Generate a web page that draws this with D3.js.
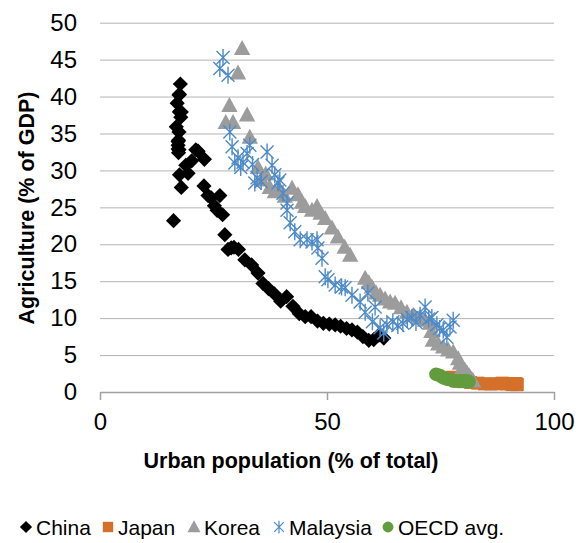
<!DOCTYPE html>
<html>
<head>
<meta charset="utf-8">
<script src="https://cdn.jsdelivr.net/npm/d3@7"></script>
<style>
  body { margin: 0; background: #fff; }
  svg { font-family: "Liberation Sans", Arial, sans-serif; }
</style>
</head>
<body>
<svg id="chart" width="587" height="543"></svg>
<script>
// values: [urban %, agriculture % of GDP]
var china = [[16.2,23.2],[16.8,35.9],[17.0,39.1],[17.4,40.2],[17.6,38.0],[17.9,37.9],[17.8,37.2],[17.5,40.3],[17.7,41.7],[17.5,37.9],
  [17.4,35.2],[17.3,34.1],[17.2,32.9],[17.2,33.4],[17.2,33.9],[17.3,32.4],[17.4,32.8],[17.5,29.4],[17.9,27.7],[18.9,30.7],
  [19.4,29.6],[20.2,31.3],[21.1,32.8],[21.6,32.6],[23.0,31.5],[22.9,27.9],[23.8,26.6],[24.5,26.3],[25.2,25.2],[25.8,24.6],
  [26.4,26.6],[27.0,24.0],[27.5,21.3],[28.2,19.3],[28.9,19.5],[29.5,19.6],[30.5,19.3],[31.9,17.9],[33.4,17.2],[34.8,16.1],
  [35.9,14.7],[37.1,14.0],[38.4,13.3],[39.8,12.3],[41.1,12.9],[42.5,11.6],[43.9,10.6],[45.2,10.2],[46.5,10.2],[47.9,9.6],
  [49.2,9.3],[50.5,9.2],[51.8,9.1],[53.0,8.9],[54.3,8.6],[55.5,8.4],[56.7,8.1],[57.9,7.5],[59.2,7.0],[60.3,7.1],[61.4,7.7],[62.5,7.3]];
var japan = [[77.6,2.0],[77.8,1.9],[78.0,1.8],[78.2,1.7],[78.4,1.6],[78.6,1.5],[80.0,1.4],[81.6,1.3],[83.2,1.2],[84.7,1.1],
  [86.0,1.1],[87.4,1.1],[88.6,1.2],[89.7,1.1],[90.5,1.1],[90.8,1.0],[91.1,1.1],[91.3,1.1],[91.4,1.1],[91.5,1.1],
  [91.6,1.1],[91.7,1.1],[91.8,1.0],[91.9,1.0]];
var korea = [[27.7,36.5],[28.5,38.8],[29.3,36.5],[30.4,43.2],[31.3,46.5],[32.4,37.5],[33.0,34.5],[34.8,30.4],[35.7,28.7],[36.5,29.5],
  [37.4,27.7],[38.5,27.1],[39.5,27.5],[40.7,26.5],[42.3,27.6],[43.6,26.7],[44.5,25.7],[45.2,25.1],[46.7,24.6],[47.8,25.1],
  [48.6,24.2],[49.6,23.5],[51.1,22.2],[52.4,21.0],[53.9,19.6],[55.1,18.5],[58.4,15.4],[59.2,14.8],[59.9,14.2],[60.8,13.4],
  [61.7,13.1],[62.8,12.6],[63.9,12.2],[65.0,12.0],[66.3,11.4],[67.6,10.8],[69.0,10.4],[70.5,10.1],[71.6,9.7],[72.7,9.3],
  [73.0,8.2],[73.3,7.0],[74.5,6.5],[75.6,6.1],[76.7,5.7],[77.8,5.4],[78.9,4.5],[79.3,3.9],[79.8,3.3],[80.4,2.9],
  [80.8,2.6],[81.3,2.2],[81.6,1.9],[81.9,1.7],[82.2,1.5]];
var malaysia = [[26.4,43.8],[27.1,45.3],[28.2,42.9],[28.6,35.2],[29.1,33.2],[29.7,31.0],[30.4,31.7],[31.0,30.4],[31.5,31.1],[32.4,32.3],
  [33.0,33.4],[33.6,30.8],[34.1,28.3],[34.6,29.0],[35.5,28.5],[36.8,32.5],[37.9,30.7],[38.5,29.4],[39.2,28.3],[39.6,28.7],
  [40.3,26.9],[41.2,25.6],[41.2,24.6],[41.9,22.9],[42.9,21.7],[44.1,20.6],[45.6,20.6],[46.7,20.3],[47.8,20.6],[48.0,19.5],
  [48.9,18.1],[49.6,15.6],[50.2,15.2],[51.8,14.5],[53.2,14.2],[54.0,14.1],[55.5,13.1],[57.3,12.2],[58.4,10.8],[59.0,13.4],
  [60.0,9.5],[60.6,11.5],[61.7,8.7],[62.5,8.0],[63.2,9.1],[64.5,9.5],[65.6,9.0],[66.7,9.3],[67.7,9.8],[68.7,10.1],
  [69.6,9.4],[70.5,10.4],[71.6,11.5],[72.4,9.9],[73.1,10.1],[74.2,9.1],[74.8,8.6],[75.6,8.4],[76.4,7.4],[77.1,8.8],[77.8,9.7]];
var oecd = [[74.0,2.4],[74.5,2.3],[75.0,2.2],[75.4,2.0],[75.8,1.9],[76.2,1.8],[76.7,1.7],[77.1,1.7],[77.5,1.6],[77.9,1.5],
  [78.3,1.5],[78.7,1.5],[79.1,1.5],[79.5,1.5],[79.9,1.5],[80.3,1.5],[80.7,1.5],[81.0,1.4],[81.3,1.4]];

var seriesNames = ["China", "Japan", "Korea", "Malaysia", "OECD avg."];
var xTicks = [0, 50, 100];
var yTicks = [0, 5, 10, 15, 20, 25, 30, 35, 40, 45, 50];

var svg = d3.select("#chart");
var x = d3.scaleLinear().domain([0, 100]).range([100, 554]);
var y = d3.scaleLinear().domain([0, 50]).range([392, 22.7]);

// marker shapes, centred on 0,0
var shapes = {
  diamond: "M0,-7.6L7.6,0L0,7.6L-7.6,0Z",
  square: "M-6.5,-6.5H6.5V6.5H-6.5Z",
  triangle: "M0,-8.5L8.2,6.5H-8.2Z",
  star: "M-6.5,-6.5L6.5,6.5M6.5,-6.5L-6.5,6.5M0,-8.5V8.5",
  circle: "M6.8,0A6.8,6.8 0 1,1 -6.8,0A6.8,6.8 0 1,1 6.8,0Z"
};
var series = [
  { name: seriesNames[0], data: china, shape: "diamond", color: "#000000" },
  { name: seriesNames[1], data: japan, shape: "square", color: "#d4702a" },
  { name: seriesNames[2], data: korea, shape: "triangle", color: "#9c9c9c" },
  { name: seriesNames[3], data: malaysia, shape: "star", color: "#4d8ac8" },
  { name: seriesNames[4], data: oecd, shape: "circle", color: "#629c3d" }
];

// horizontal gridlines + y labels
var yAxis = d3.axisLeft(y).tickValues(yTicks).tickSize(-(554 - 100)).tickPadding(23);
var gy = svg.append("g").attr("transform", "translate(100,0)").call(yAxis);
gy.select(".domain").remove();
gy.selectAll(".tick line").attr("stroke", "#b4b4b4").attr("stroke-width", 1);
gy.selectAll(".tick").filter(d => d === 0).select("line").remove();
gy.selectAll(".tick text").style("font-size", "24px").attr("fill", "#000");

// x axis
var xAxis = d3.axisBottom(x).tickValues(xTicks).tickSize(8).tickSizeOuter(0).tickPadding(13);
var gx = svg.append("g").attr("transform", "translate(0,392)").call(xAxis);
gx.select(".domain").attr("stroke", "#a0a0a0").attr("stroke-width", 1.5);
gx.selectAll(".tick line").attr("stroke", "#a0a0a0").attr("stroke-width", 1.5);
gx.selectAll(".tick text").style("font-size", "24px").attr("fill", "#000");

// points
series.forEach(s => {
  svg.append("g").selectAll("path")
    .data(s.data)
    .enter()
    .append("path")
    .attr("transform", d => "translate(" + x(d[0]) + "," + y(d[1]) + ")")
    .attr("d", shapes[s.shape])
    .attr("fill", s.shape === "star" ? "none" : s.color)
    .attr("stroke", s.shape === "star" ? s.color : "none")
    .attr("stroke-width", 1.4);
});

// axis titles
svg.append("text")
  .attr("x", 291).attr("y", 468)
  .attr("text-anchor", "middle")
  .style("font-size", "21.5px").style("font-weight", "bold")
  .text("Urban population (% of total)");

svg.append("text")
  .attr("transform", "translate(34,208) rotate(-90)")
  .attr("text-anchor", "middle")
  .style("font-size", "21.5px").style("font-weight", "bold")
  .text("Agriculture (% of GDP)");

// legend
var legendX = [26, 108, 194, 279, 388];
var legend = svg.append("g").attr("transform", "translate(0,527)");
series.forEach((s, i) => {
  var sc = s.shape === "star" ? 0.75 : 0.8;
  legend.append("path")
    .attr("transform", "translate(" + legendX[i] + ",0) scale(" + sc + ")")
    .attr("d", shapes[s.shape])
    .attr("fill", s.shape === "star" ? "none" : s.color)
    .attr("stroke", s.shape === "star" ? s.color : "none")
    .attr("stroke-width", 1.6);
  legend.append("text")
    .attr("x", legendX[i] + 10).attr("y", 8)
    .style("font-size", "21px")
    .text(s.name);
});
</script>
</body>
</html>
